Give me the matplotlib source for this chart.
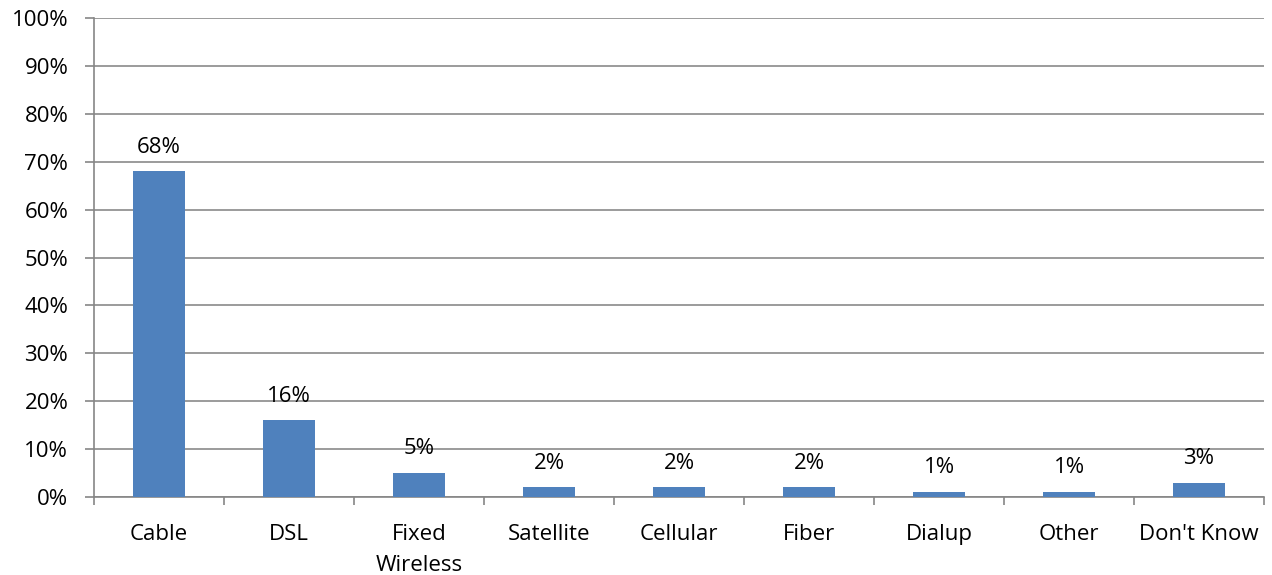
import matplotlib
matplotlib.use("Agg")
import matplotlib.pyplot as plt
from matplotlib.ticker import FixedLocator, PercentFormatter

categories = ["Cable", "DSL", "Fixed\nWireless", "Satellite", "Cellular", "Fiber", "Dialup", "Other", "Don't Know"]
values = [68, 16, 5, 2, 2, 2, 1, 1, 3]

plt.rcParams['font.family'] = ['Open Sans', 'DejaVu Sans']

fig = plt.figure(figsize=(12.72, 5.75), dpi=100)
ax = fig.add_axes([94/1272, 1 - 497/575, (1264-94)/1272, (497-18)/575])

x = list(range(len(categories)))
bars = ax.bar(x, values, width=0.395, color="#4F81BD", zorder=3)

ax.set_xlim(-0.5, len(categories) - 0.5)
ax.set_ylim(0, 100)
ax.set_yticks(range(0, 101, 10))
ax.yaxis.set_major_formatter(PercentFormatter(decimals=0))
ax.grid(axis='y', color="#8a8a8a", linewidth=1.2, zorder=0)

ax.set_xticks(x)
ax.set_xticklabels(categories, fontsize=16, linespacing=1.6)
ax.xaxis.set_minor_locator(FixedLocator([i - 0.5 for i in range(len(categories) + 1)]))
ax.tick_params(axis='x', which='major', length=0, pad=19.5)
ax.tick_params(axis='x', which='minor', length=6, color="#868686", width=1.2)
ax.tick_params(axis='y', length=6.5, color="#868686", width=1.2, labelsize=16, pad=12)

for s in ['top', 'right']:
    ax.spines[s].set_visible(False)
for s in ['left', 'bottom']:
    ax.spines[s].set_color("#868686")
    ax.spines[s].set_linewidth(1.2)

for xi, v in zip(x, values):
    ax.annotate(f"{v}%", (xi, v), xytext=(0, 13.5), textcoords="offset points",
                ha="center", va="baseline", fontsize=16)

fig.savefig("out.png", dpi=100)
